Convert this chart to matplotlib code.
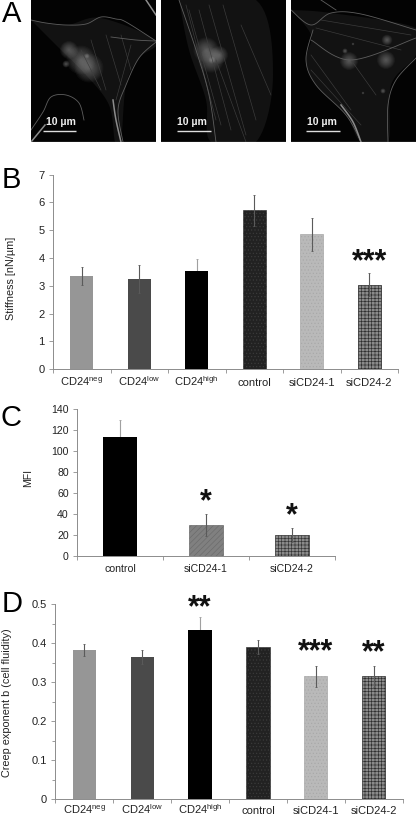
import numpy as np
import matplotlib
matplotlib.use("Agg")
import matplotlib.pyplot as plt
from matplotlib.patches import Polygon, Circle

W, H = 416, 815
plt.rcParams['font.family'] = ['Liberation Sans', 'DejaVu Sans']
plt.rcParams['mathtext.fontset'] = 'custom'
plt.rcParams['mathtext.rm'] = 'Liberation Sans'
plt.rcParams['mathtext.default'] = 'regular'
plt.rcParams['hatch.linewidth'] = 0.45

labels_six = ['CD24$^{neg}$', 'CD24$^{low}$', 'CD24$^{high}$', 'control', 'siCD24-1', 'siCD24-2']
labels_three = ['control', 'siCD24-1', 'siCD24-2']

stiffness = [3.35, 3.25, 3.52, 5.72, 4.85, 3.05]
stiffness_err = [0.32, 0.50, 0.45, 0.55, 0.60, 0.42]
stiffness_stars = ['', '', '', '', '', '***']

mfi = [114, 30, 20]
mfi_err = [16, 10.5, 7]
mfi_stars = ['', '*', '*']

creep = [0.383, 0.364, 0.434, 0.390, 0.315, 0.315]
creep_err = [0.015, 0.018, 0.033, 0.018, 0.026, 0.027]
creep_stars = ['', '', '**', '', '***', '**']

six_styles = [
    dict(color='#969696'),
    dict(color='#4a4a4a'),
    dict(color='#000000'),
    dict(facecolor='#222222', edgecolor='#3c3c3c', hatch='.....'),
    dict(facecolor='#b9b9b9', edgecolor='#a8a8a8', hatch='.....'),
    dict(facecolor='#8a8a8a', edgecolor='#2c2c2c', hatch='+++++'),
]
three_styles = [
    dict(color='#000000'),
    dict(facecolor='#808080', edgecolor='#6a6a6a', hatch='//////'),
    dict(facecolor='#8a8a8a', edgecolor='#333333', hatch='+++++'),
]

fig = plt.figure(figsize=(W / 100, H / 100), dpi=100, facecolor='white')


def px_axes(x0, y_top, x1, y_bot):
    return fig.add_axes([x0 / W, 1 - y_bot / H, (x1 - x0) / W, (y_bot - y_top) / H])


def bars(ax, labels, vals, errs, styles, stars, star_gaps, ymax, major, label_pad, star_size, fs, minor=None):
    xs = list(range(len(vals)))
    for x, v, e, st in zip(xs, vals, errs, styles):
        is_black = st.get('color') == '#000000'
        ax.bar(x, v, width=0.4, linewidth=0.5, zorder=3 if is_black else 1, **st)
        ax.errorbar(x, v, yerr=e, color='#a0a0a0' if is_black else '#5a5a5a', elinewidth=0.8,
                    capsize=0.8, capthick=0.6, zorder=2)
    for x, v, e, s, g in zip(xs, vals, errs, stars, star_gaps):
        if s:
            ax.annotate(s, (x, v + e), xytext=(0, g), textcoords='offset pixels',
                        ha='center', va='center', fontsize=star_size, fontweight='bold', color='#111111')
    ax.set_xlim(-0.5, len(vals) - 0.5)
    ax.set_ylim(0, ymax)
    ax.set_yticks(major)
    if minor:
        ax.set_yticks(minor, minor=True)
        ax.tick_params(axis='y', which='minor', length=2, width=0.6, color='#8c8c8c')
    ax.set_xticks([i - 0.5 for i in range(len(vals) + 1)], minor=True)
    ax.set_xticks(xs)
    ax.set_xticklabels(labels, va='baseline')
    ax.tick_params(axis='x', which='major', length=0, pad=label_pad, labelsize=fs, labelcolor='#222222')
    ax.tick_params(axis='x', which='minor', length=3, width=0.6, color='#8c8c8c', direction='out')
    ax.tick_params(axis='y', which='major', length=3, width=0.6, color='#8c8c8c', labelsize=fs, labelcolor='#222222', pad=3)
    for s in ['top', 'right']:
        ax.spines[s].set_visible(False)
    for s in ['left', 'bottom']:
        ax.spines[s].set_color('#8c8c8c')
        ax.spines[s].set_linewidth(0.7)
    ax.patch.set_alpha(0)


# Panel B
axB = px_axes(53, 174.7, 398, 369.3)
bars(axB, labels_six, stiffness, stiffness_err, six_styles, stiffness_stars, [0, 0, 0, 0, 0, 11], 7, range(0, 8), 12, 22, 8)
fig.text(11.5 / W, 1 - 278 / H, 'Stiffness [nN/µm]', rotation=90, ha='center', va='center', fontsize=7.8, color='#222222')

# Panel C
axC = px_axes(77, 409.3, 335, 556)
bars(axC, labels_three, mfi, mfi_err, three_styles, mfi_stars, [0, 11, 11], 140, range(0, 141, 20), 11.5, 22, 7.6)
fig.text(28 / W, 1 - 478 / H, 'MFI', rotation=90, ha='center', va='center', fontsize=7.6, color='#222222')

# Panel D
axD = px_axes(55.3, 604.3, 402.7, 799.3)
bars(axD, labels_six, creep, creep_err, six_styles, creep_stars, [0, 0, 9, 0, 14, 13], 0.5, [0, 0.1, 0.2, 0.3, 0.4, 0.5], 10.5, 22, 8,
     minor=[0.05, 0.15, 0.25, 0.35, 0.45])
axD.set_yticklabels(['0', '0.1', '0.2', '0.3', '0.4', '0.5'])
fig.text(7.5 / W, 1 - 703 / H, 'Creep exponent b (cell fluidity)', rotation=90, ha='center', va='center',
         fontsize=7.8, color='#222222')

# Panel letters
for letter, x, y in [('A', 11.5, 13.5), ('B', 11, 180), ('C', 11, 418), ('D', 12, 604)]:
    fig.text(x / W, 1 - y / H, letter, ha='center', va='center', fontsize=21, color='black')


def smooth(points, n=14):
    """Catmull-Rom curve through hand-placed outline points of the micrographs."""
    p = np.array(points, dtype=float)
    p = np.vstack([p[0], p, p[-1]])
    out = []
    for i in range(1, len(p) - 2):
        t = np.linspace(0, 1, n)[:, None]
        a, b, c, d = p[i - 1], p[i], p[i + 1], p[i + 2]
        out.append(0.5 * (2 * b + (c - a) * t + (2 * a - 5 * b + 4 * c - d) * t ** 2 + (3 * b - a - 3 * c + d) * t ** 3))
    return np.vstack(out)


# Panel A micrographs (schematic, pixel coordinates of each image)
panels = [
    dict(box=(31, 156), bar=(12, 45), label=30,
         body=[(0, 20), (35, 25), (70, 18), (125, 41), (108, 58), (95, 85), (90, 142), (84, 142), (78, 105), (55, 75), (30, 50), (12, 32)],
         edges=[[(0, 20), (15, 23), (35, 25), (55, 24), (70, 17), (85, 19), (95, 22), (125, 41)],
                [(125, 42), (108, 58), (95, 85), (87, 110), (92, 142)],
                [(0, 130), (12, 112), (20, 97), (35, 95), (48, 103), (53, 120)],
                [(80, 37), (105, 40), (125, 41)]],
         bright=[[(115, 0), (125, 15)], [(82, 100), (85, 120), (90, 142)], [(0, 142), (14, 125)]],
         fibers=[[(60, 40), (75, 90)], [(75, 35), (90, 85)], [(90, 35), (100, 70)], [(50, 50), (70, 90)],
                 [(100, 45), (85, 100)]],
         blobs=[(38, 50, 5), (58, 68, 8), (50, 60, 8), (35, 64, 2), (56, 56, 1.5)]),
    dict(box=(161, 286), bar=(16, 50), label=31,
         body=[(18, 0), (95, 0), (112, 75), (95, 142), (50, 142), (45, 100), (28, 50)],
         edges=[[(18, 0), (35, 50), (48, 95), (55, 142)]],
         bright=[],
         fibers=[[(28, 10), (60, 125)], [(38, 10), (70, 130)], [(48, 5), (85, 135)], [(62, 5), (95, 120)],
                 [(80, 25), (110, 95)], [(25, 5), (55, 120)], [(55, 60), (85, 142)]],
         blobs=[(45, 50, 7), (50, 60, 7), (58, 55, 5), (51, 60, 2)]),
    dict(box=(291, 416), bar=(15, 49), label=31,
         body=[(0, 10), (40, 13), (125, 28), (125, 55), (100, 85), (97, 142), (70, 142), (55, 115), (25, 85), (15, 60), (20, 35)],
         edges=[[(0, 10), (20, 25), (40, 13), (70, 14), (125, 30)],
                [(22, 30), (15, 60), (25, 85), (55, 115), (70, 142)],
                [(125, 58), (105, 80), (97, 105), (97, 142)],
                [(30, 0), (45, 10)],
                [(20, 40), (60, 60), (125, 38)]],
         bright=[[(50, 105), (62, 122), (70, 142)]],
         fibers=[[(30, 20), (120, 35)], [(25, 28), (110, 50)], [(20, 55), (60, 110)], [(20, 70), (70, 125)],
                 [(60, 60), (85, 95)]],
         blobs=[(58, 61, 5), (96, 40, 3), (95, 60, 5), (54, 51, 1.5), (92, 91, 1.5), (72, 93, 0.8), (62, 44, 0.8)]),
]
for p in panels:
    x0, x1 = p['box']
    ax = px_axes(x0, 0, x1, 142)
    ax.set_facecolor('#030303')
    ax.set_xlim(0, x1 - x0)
    ax.set_ylim(142, 0)
    ax.set_xticks([])
    ax.set_yticks([])
    for s in ax.spines.values():
        s.set_visible(False)
    ax.add_patch(Polygon(smooth(p['body'] + [p['body'][0]]), closed=True, facecolor='#121212', edgecolor='none'))
    for line in p['fibers']:
        ax.plot(*zip(*line), color='#3e3e3e', lw=0.45)
    for line in p['edges']:
        xy = smooth(line)
        ax.plot(xy[:, 0], xy[:, 1], color='#5e5e5e', lw=0.6)
    for line in p['bright']:
        xy = smooth(line)
        ax.plot(xy[:, 0], xy[:, 1], color='#8c8c8c', lw=1.1)
    for bx, by, r in p['blobs']:
        for scale in np.linspace(1.8, 0.2, 12):
            ax.add_patch(Circle((bx, by), r * scale, facecolor='#a8a8a8', alpha=0.05, edgecolor='none'))
    ax.plot(p['bar'], [131, 131], color='#dddddd', lw=1.0, solid_capstyle='butt')
    ax.text(p['label'], 122, '10 µm', color='#eeeeee', fontsize=7.6, fontweight='bold', ha='center', va='center')
    ax.plot([0, x1 - x0], [141.5, 141.5], color='#777777', lw=1)

fig.savefig('out.png', dpi=100, facecolor='white')
